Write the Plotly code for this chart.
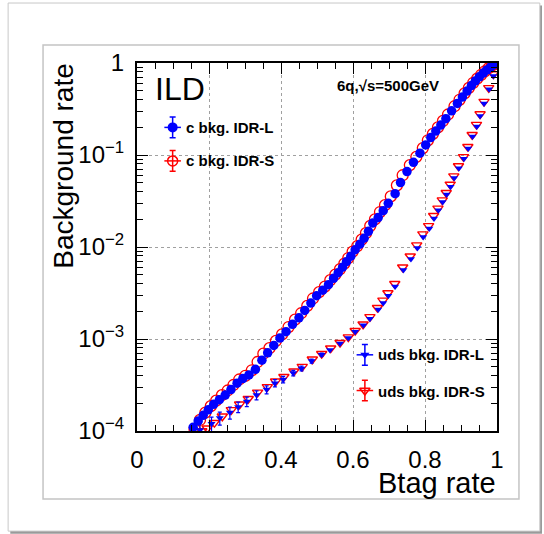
import numpy as np
import plotly.graph_objects as go

# ---- c-quark background, IDR-L (x = b-tag efficiency, log10 of background rate)
c_L_x = [0.156, 0.170, 0.184, 0.198, 0.213, 0.229, 0.245, 0.261, 0.278, 0.294,
         0.311, 0.329, 0.347, 0.363, 0.380, 0.397, 0.414, 0.432, 0.450, 0.466,
         0.483, 0.499, 0.516, 0.532, 0.546, 0.559, 0.571, 0.582, 0.594, 0.606,
         0.619, 0.631, 0.643, 0.655, 0.670, 0.684, 0.698, 0.717, 0.732, 0.750,
         0.768, 0.786, 0.802, 0.816, 0.830, 0.844, 0.858, 0.874, 0.890, 0.904,
         0.917, 0.929, 0.940, 0.951, 0.962, 0.972, 0.982, 0.991, 1.000]
c_L_log = [-3.96, -3.89, -3.83, -3.77, -3.71, -3.66, -3.61, -3.55, -3.48, -3.43,
           -3.39, -3.33, -3.23, -3.15, -3.07, -2.99, -2.92, -2.84, -2.77, -2.69,
           -2.61, -2.53, -2.47, -2.41, -2.34, -2.28, -2.22, -2.16, -2.10, -2.03,
           -1.97, -1.905, -1.83, -1.74, -1.68, -1.605, -1.525, -1.42, -1.30, -1.18,
           -1.08, -0.98, -0.89, -0.81, -0.74, -0.675, -0.605, -0.52, -0.44, -0.37,
           -0.305, -0.245, -0.195, -0.15, -0.11, -0.075, -0.045, -0.02, 0.0]

# ---- c-quark background, IDR-S
c_S_x = [0.160, 0.175, 0.190, 0.205, 0.220, 0.236, 0.252, 0.268, 0.284, 0.301,
         0.319, 0.335, 0.351, 0.368, 0.386, 0.403, 0.421, 0.439, 0.456, 0.473,
         0.489, 0.506, 0.522, 0.537, 0.551, 0.564, 0.576, 0.587, 0.599, 0.612,
         0.624, 0.636, 0.648, 0.661, 0.675, 0.689, 0.705, 0.722, 0.738, 0.758,
         0.776, 0.794, 0.808, 0.822, 0.836, 0.850, 0.864, 0.882, 0.896, 0.910,
         0.922, 0.934, 0.945, 0.956, 0.966, 0.976, 0.986, 0.995, 1.000]
c_S_log = [-3.98, -3.88, -3.80, -3.73, -3.67, -3.61, -3.56, -3.50, -3.44, -3.40,
           -3.34, -3.25, -3.16, -3.10, -3.02, -2.95, -2.87, -2.79, -2.72, -2.64,
           -2.56, -2.49, -2.43, -2.36, -2.30, -2.24, -2.18, -2.12, -2.05, -1.99,
           -1.92, -1.85, -1.77, -1.70, -1.62, -1.545, -1.45, -1.33, -1.22, -1.11,
           -1.02, -0.925, -0.84, -0.77, -0.70, -0.63, -0.56, -0.47, -0.40, -0.33,
           -0.27, -0.215, -0.17, -0.128, -0.09, -0.058, -0.03, -0.01, 0.0]

# ---- uds background, IDR-L
uds_L_x = [0.175, 0.207, 0.230, 0.258, 0.281, 0.305, 0.332, 0.360, 0.383, 0.406,
           0.434, 0.457, 0.485, 0.513, 0.536, 0.564, 0.587, 0.606, 0.629, 0.647,
           0.670, 0.684, 0.698, 0.717, 0.740, 0.761, 0.779, 0.795, 0.812, 0.825,
           0.837, 0.849, 0.860, 0.871, 0.881, 0.894, 0.908, 0.920, 0.932, 0.944,
           0.953, 0.964, 0.978, 0.990, 1.000]
uds_L_log = [-3.99, -3.92, -3.86, -3.80, -3.74, -3.68, -3.61, -3.55, -3.48, -3.44,
             -3.37, -3.32, -3.24, -3.17, -3.12, -3.05, -2.99, -2.92, -2.85, -2.78,
             -2.68, -2.61, -2.53, -2.43, -2.25, -2.13, -2.01, -1.89, -1.80, -1.69,
             -1.60, -1.51, -1.43, -1.345, -1.25, -1.145, -1.04, -0.93, -0.80, -0.69,
             -0.576, -0.44, -0.286, -0.14, 0.0]
uds_L_relerr = [0.20, 0.18, 0.16, 0.15, 0.13, 0.12, 0.11, 0.10, 0.09, 0.08,
                0.07, 0.06, 0.05, 0.04, 0.0, 0.0, 0.0, 0.0, 0.0, 0.0,
                0.0, 0.0, 0.0, 0.0, 0.0, 0.0, 0.0, 0.0, 0.0, 0.0,
                0.0, 0.0, 0.0, 0.0, 0.0, 0.0, 0.0, 0.0, 0.0, 0.0,
                0.0, 0.0, 0.0, 0.0, 0.0]

# ---- uds background, IDR-S
uds_S_x = [0.180, 0.195, 0.215, 0.237, 0.262, 0.285, 0.309, 0.335, 0.362, 0.385,
           0.408, 0.436, 0.459, 0.487, 0.513, 0.538, 0.564, 0.587, 0.606, 0.628,
           0.647, 0.668, 0.683, 0.697, 0.716, 0.738, 0.759, 0.777, 0.794, 0.810,
           0.824, 0.836, 0.848, 0.859, 0.870, 0.880, 0.893, 0.907, 0.919, 0.931,
           0.943, 0.953, 0.964, 0.977, 0.990, 1.000]
uds_S_log = [-4.00, -3.97, -3.91, -3.84, -3.77, -3.71, -3.65, -3.58, -3.52, -3.46,
             -3.41, -3.35, -3.30, -3.22, -3.16, -3.10, -3.04, -2.98, -2.91, -2.84,
             -2.76, -2.66, -2.58, -2.50, -2.40, -2.22, -2.10, -1.98, -1.86, -1.77,
             -1.66, -1.58, -1.49, -1.41, -1.32, -1.23, -1.12, -1.02, -0.91, -0.78,
             -0.67, -0.555, -0.42, -0.27, -0.12, 0.0]

# ---- axis ticks
x_ticks = [0, 0.2, 0.4, 0.6, 0.8, 1]
x_labels = ["0", "0.2", "0.4", "0.6", "0.8", "1"]
y_ticks = [1e-4, 1e-3, 1e-2, 1e-1, 1]
y_labels = ["10<sup>−4</sup>", "10<sup>−3</sup>", "10<sup>−2</sup>", "10<sup>−1</sup>", "1"]
y_minor = [m * 10.0 ** e for e in (-4, -3, -2, -1) for m in range(2, 10)]

BLUE = "#0000ff"
RED = "#ff0000"
FONT = "Liberation Sans"

c_L_y = 10.0 ** np.array(c_L_log)
c_S_y = 10.0 ** np.array(c_S_log)
uds_L_y = 10.0 ** np.array(uds_L_log)
uds_S_y = 10.0 ** np.array(uds_S_log)

fig = go.Figure()

# IDR-S (open red markers) first, IDR-L (filled blue) drawn over them
fig.add_trace(go.Scatter(
    x=c_S_x, y=c_S_y, mode="markers", name="c bkg. IDR-S",
    marker=dict(symbol="circle-open", size=11, color=RED, line=dict(width=1.3, color=RED))))
fig.add_trace(go.Scatter(
    x=uds_S_x, y=uds_S_y, mode="markers", name="uds bkg. IDR-S",
    marker=dict(symbol="triangle-down-open", size=9, color=RED, line=dict(width=1.4, color=RED))))
fig.add_trace(go.Scatter(
    x=c_L_x, y=c_L_y, mode="markers", name="c bkg. IDR-L",
    marker=dict(symbol="circle", size=9.5, color=BLUE, line=dict(width=0))))
fig.add_trace(go.Scatter(
    x=uds_L_x, y=uds_L_y, mode="markers", name="uds bkg. IDR-L",
    marker=dict(symbol="triangle-down", size=7, color=BLUE, line=dict(width=0)),
    error_y=dict(type="data", array=list(uds_L_y * np.array(uds_L_relerr)),
                 color=BLUE, thickness=1.2, width=2)))

# legend glyphs (marker with error cross) on an overlay unit axis
legend_glyphs = [
    (0.099, 0.825, "circle", 10, BLUE, 0),
    (0.099, 0.734, "circle-open", 10, RED, 1.5),
    (0.633, 0.207, "triangle-down", 8, BLUE, 0),
    (0.633, 0.110, "triangle-down-open", 9, RED, 1.5),
]
for gx, gy, sym, sz, col, lw in legend_glyphs:
    fig.add_trace(go.Scatter(
        x=[gx], y=[gy], xaxis="x2", yaxis="y2", mode="markers", showlegend=False,
        hoverinfo="skip",
        marker=dict(symbol=sym, size=sz, color=col, line=dict(width=lw, color=col)),
        error_x=dict(type="constant", value=0.023, color=col, thickness=1.5, width=0),
        error_y=dict(type="constant", value=0.028, color=col, thickness=1.5, width=3)))

legend_texts = [
    (0.133, 0.825, "c bkg. IDR-L"),
    (0.133, 0.734, "c bkg. IDR-S"),
    (0.667, 0.207, "uds bkg. IDR-L"),
    (0.667, 0.106, "uds bkg. IDR-S"),
]
annotations = []
for tx, ty, txt in legend_texts:
    annotations.append(dict(
        x=tx, y=ty, xref="paper", yref="paper", text=txt, showarrow=False,
        xanchor="left", yanchor="middle", borderpad=0,
        font=dict(family=FONT, size=15, color="black", weight="bold")))

annotations += [
    dict(x=0.047, y=0.929, xref="paper", yref="paper", text="ILD", showarrow=False,
         xanchor="left", yanchor="middle", borderpad=0,
         font=dict(family=FONT, size=32, color="black")),
    dict(x=0.553, y=0.940, xref="paper", yref="paper", text="6q,√s=500GeV",
         showarrow=False, xanchor="left", yanchor="middle", borderpad=0,
         font=dict(family=FONT, size=15, color="black", weight="bold")),
    dict(x=1.0, y=-0.140, xref="paper", yref="paper", text="Btag rate", showarrow=False,
         xanchor="right", yanchor="middle", borderpad=0,
         font=dict(family=FONT, size=29, color="black")),
    dict(x=-0.205, y=1.0, xref="paper", yref="paper", text="Background rate",
         showarrow=False, textangle=-90, xanchor="center", yanchor="top", borderpad=0,
         font=dict(family=FONT, size=28, color="black")),
]

shapes = [
    # canvas frame with drop shadow
    dict(type="rect", xref="paper", yref="paper", x0=-0.352, x1=1.125, y0=-0.279, y1=1.156,
         fillcolor="#9a9a9a", line=dict(width=0), layer="below"),
    dict(type="rect", xref="paper", yref="paper", x0=-0.358, x1=1.119, y0=-0.272, y1=1.163,
         fillcolor="white", line=dict(color="#c8c8c8", width=1), layer="below"),
    # inner pad frame
    dict(type="rect", xref="paper", yref="paper", x0=-0.261, x1=1.061, y0=-0.185, y1=1.049,
         fillcolor="white", line=dict(color="#c4c4c4", width=1.5), layer="below"),
    # white boxes behind text blocks (hide the grid)
    dict(type="rect", xref="paper", yref="paper", x0=0.067, x1=0.400, y0=0.693, y1=0.878,
         fillcolor="white", line=dict(width=0), layer="between"),
    dict(type="rect", xref="paper", yref="paper", x0=0.608, x1=0.994, y0=0.065, y1=0.239,
         fillcolor="white", line=dict(width=0), layer="between"),
    dict(type="rect", xref="paper", yref="paper", x0=0.550, x1=0.883, y0=0.918, y1=0.994,
         fillcolor="white", line=dict(width=0), layer="between"),
]

fig.update_layout(
    width=544, height=534,
    margin=dict(l=137, r=47, t=63, b=103),
    paper_bgcolor="white", plot_bgcolor="white",
    showlegend=False,
    annotations=annotations,
    shapes=shapes,
    xaxis=dict(
        range=[0, 1], tickvals=x_ticks, ticktext=x_labels,
        ticks="inside", ticklen=11, tickwidth=1, tickcolor="black",
        showline=True, linewidth=2, linecolor="black", mirror="allticks",
        showgrid=True, gridcolor="#a0a0a0", griddash="dot", gridwidth=1,
        zeroline=False, ticklabelstandoff=6,
        tickfont=dict(family=FONT, size=24, color="black"),
        minor=dict(dtick=0.05, ticks="inside", ticklen=6, tickwidth=1,
                   tickcolor="black", showgrid=False),
    ),
    yaxis=dict(
        type="log", range=[-4, 0], tickvals=y_ticks, ticktext=y_labels,
        ticks="inside", ticklen=11, tickwidth=1, tickcolor="black",
        showline=True, linewidth=2, linecolor="black", mirror="allticks",
        showgrid=True, gridcolor="#a0a0a0", griddash="dot", gridwidth=1,
        zeroline=False, ticklabelstandoff=6,
        tickfont=dict(family=FONT, size=24, color="black"),
        minor=dict(tickvals=y_minor, ticks="inside", ticklen=6, tickwidth=1,
                   tickcolor="black", showgrid=False),
    ),
    xaxis2=dict(range=[0, 1], overlaying="x", visible=False, anchor="y2"),
    yaxis2=dict(range=[0, 1], overlaying="y", visible=False, anchor="x2"),
)

fig.write_html("out.html")
